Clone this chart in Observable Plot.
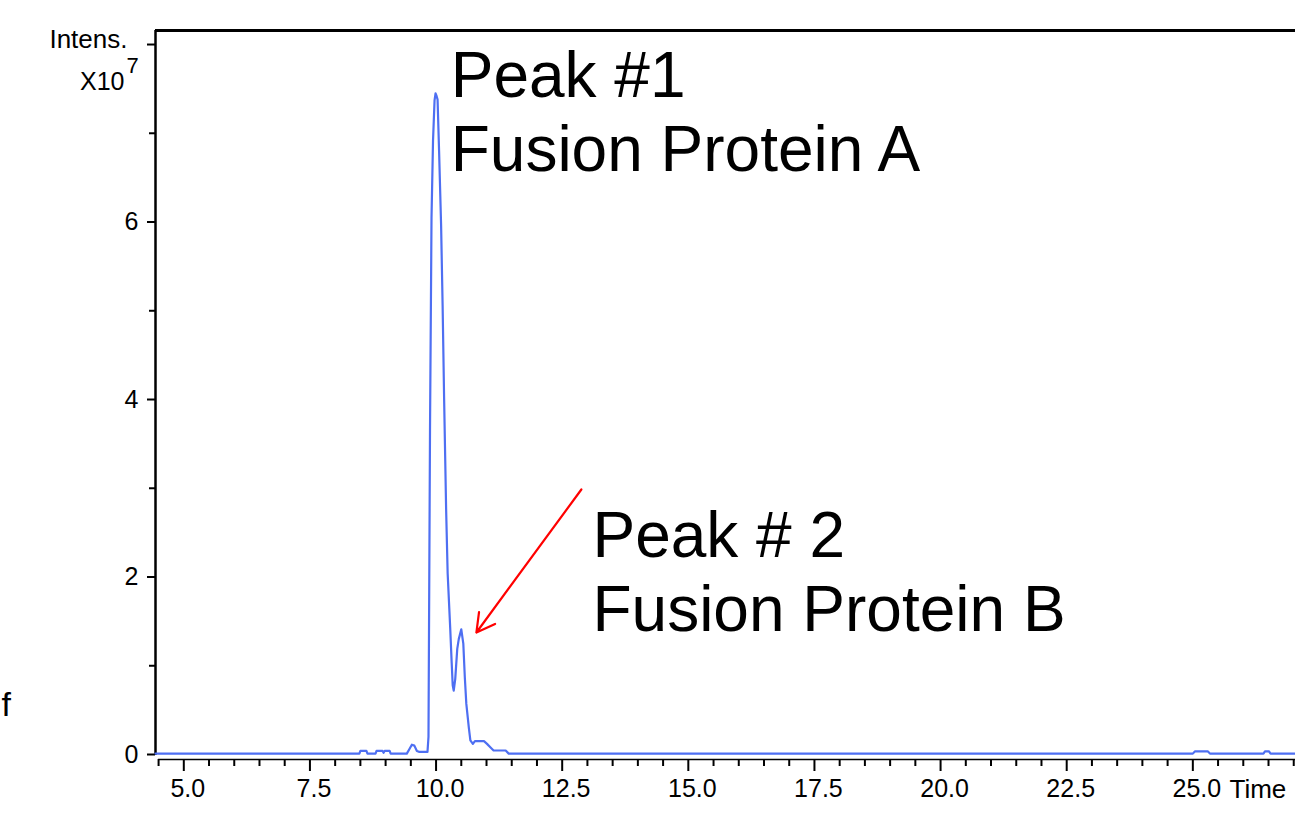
<!DOCTYPE html>
<html>
<head>
<meta charset="utf-8">
<script src="https://cdn.jsdelivr.net/npm/d3@7"></script>
<script src="https://cdn.jsdelivr.net/npm/@observablehq/plot@0.6"></script>
<style>
  html, body { margin: 0; padding: 0; background: #fff; }
  #chart svg { display: block; }
</style>
</head>
<body>
<div id="chart"></div>
<script>
// Retention time (min)
const time = [4.44, 8.48, 8.50, 8.62, 8.64, 8.80, 8.82, 8.94, 8.96, 8.98, 9.08, 9.10,
  9.42, 9.47, 9.52, 9.57, 9.62, 9.66, 9.83, 9.85, 9.88, 9.91, 9.94, 9.97, 9.99,
  10.01, 10.03, 10.06, 10.10, 10.13, 10.16, 10.20, 10.23, 10.28, 10.31, 10.33, 10.35,
  10.38, 10.42, 10.45, 10.50, 10.54, 10.57, 10.60, 10.65, 10.68, 10.73, 10.77, 10.95,
  11.01, 11.08, 11.14, 11.38, 11.44, 25.00, 25.04, 25.30, 25.34, 26.40, 26.43, 26.51,
  26.54, 27.04];
// Intensity (x10^7)
const intensity = [0.01, 0.01, 0.04, 0.04, 0.01, 0.01, 0.04, 0.04, 0.02, 0.04, 0.04, 0.01,
  0.01, 0.06, 0.11, 0.10, 0.04, 0.03, 0.03, 0.20, 3.65, 6.05, 6.92, 7.37, 7.45,
  7.42, 7.38, 6.80, 5.96, 5.06, 4.00, 2.75, 2.04, 1.43, 1.03, 0.78, 0.72,
  0.85, 1.19, 1.30, 1.41, 1.25, 0.87, 0.57, 0.30, 0.16, 0.12, 0.15, 0.15,
  0.12, 0.08, 0.045, 0.045, 0.01, 0.01, 0.035, 0.035, 0.01, 0.01, 0.035, 0.035,
  0.01, 0.01];

const xMajorTicks = [5.0, 7.5, 10.0, 12.5, 15.0, 17.5, 20.0, 22.5, 25.0];
const xMinorTicks = d3.range(4.5, 27.01, 0.5).filter(t => !xMajorTicks.includes(t));
const yLabelTicks = [0, 2, 4, 6];
const yMajorTicks = [0, 2, 4, 6, 8];
const yMinorTicks = [1, 3, 5, 7];

const annotationText = ["Peak #1", "Fusion Protein A", "Peak # 2", "Fusion Protein B"];
const annotationX = [10.29, 10.29, 13.10, 13.10];
const annotationY = [7.414, 6.58, 2.231, 1.397];
const arrowFrom = [12.88, 2.986];
const arrowTo = [10.80, 1.375];

const xDomain = [4.439, 27.035];
const yDomain = [-0.0563, 8.158];

const points = time.map((t, i) => ({t, v: intensity[i]}));
const annotations = annotationText.map((s, i) => ({s, x: annotationX[i], y: annotationY[i]}));
const arrows = [{x1: arrowFrom[0], y1: arrowFrom[1], x2: arrowTo[0], y2: arrowTo[1]}];

const font = "'Liberation Sans', Arial, Helvetica, sans-serif";

const chart = Plot.plot({
  width: 1295,
  height: 820,
  marginLeft: 155,
  marginRight: 0,
  marginTop: 30,
  marginBottom: 61,
  x: {domain: xDomain},
  y: {domain: yDomain},
  style: {fontFamily: font, background: "#fff", color: "#000", overflow: "visible"},
  marks: [
    // axis lines / frame
    Plot.ruleX([xDomain[0]], {y1: -0.01, y2: yDomain[1], stroke: "#000", strokeWidth: 2.5}),
    Plot.ruleY([yDomain[1]], {x1: xDomain[0], x2: xDomain[1], stroke: "#000", strokeWidth: 3}),
    Plot.ruleY([yDomain[0]], {x1: 4.5, x2: xDomain[1], stroke: "#000", strokeWidth: 1.5}),
    // y axis
    Plot.axisY(yMajorTicks, {tickSize: 8, fill: "none", strokeWidth: 2, label: null}),
    Plot.axisY(yMinorTicks, {tickSize: 6, fill: "none", strokeWidth: 2, label: null}),
    Plot.axisY(yLabelTicks, {tickSize: 0, tickPadding: 17, fontSize: 25, label: null, tickFormat: d3.format("d")}),
    // x axis
    Plot.axisX(xMajorTicks, {tickSize: 12, fill: "none", strokeWidth: 2, label: null}),
    Plot.axisX(xMinorTicks, {tickSize: 7, fill: "none", strokeWidth: 2, label: null}),
    Plot.axisX(xMajorTicks, {tickSize: 0, tickPadding: 20, dx: 4, fontSize: 25, label: null, tickFormat: d3.format(".1f")}),
    // chromatogram
    Plot.line(points, {x: "t", y: "v", stroke: "#4e6ff2", strokeWidth: 2.2, strokeLinejoin: "round"}),
    // annotations
    Plot.text(annotations, {x: "x", y: "y", text: "s", textAnchor: "start", lineAnchor: "bottom", fontSize: 64, fill: "#000"}),
    Plot.arrow(arrows, {x1: "x1", y1: "y1", x2: "x2", y2: "y2", stroke: "#ff0000", strokeWidth: 2.2, headLength: 14, headAngle: 58}),
    // axis titles
    Plot.text(["Intens."], {frameAnchor: "top-left", dx: -28, dy: 17, textAnchor: "end", lineAnchor: "bottom", fontSize: 26}),
    Plot.text(["X10"], {frameAnchor: "top-left", dx: -31, dy: 59, textAnchor: "end", lineAnchor: "bottom", fontSize: 25}),
    Plot.text(["7"], {frameAnchor: "top-left", dx: -29, dy: 42, textAnchor: "start", lineAnchor: "bottom", fontSize: 22}),
    Plot.text(["Time"], {frameAnchor: "bottom-right", dx: -66, dy: 38, textAnchor: "start", lineAnchor: "bottom", fontSize: 26}),
    Plot.text(["f"], {frameAnchor: "top-left", dx: -154, dy: 685, textAnchor: "start", lineAnchor: "bottom", fontSize: 34})
  ]
});

document.getElementById("chart").appendChild(chart);
</script>
</body>
</html>
